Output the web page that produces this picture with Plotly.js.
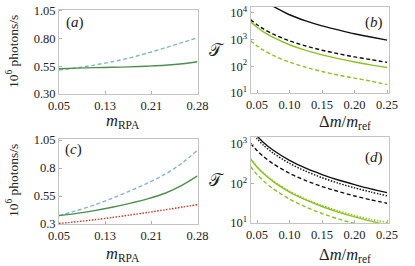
<!DOCTYPE html>
<html><head><meta charset="utf-8">
<script src="https://cdn.plot.ly/plotly-3.0.1.min.js"></script>
<style>html,body{margin:0;padding:0;background:#fff}#g{width:415px;height:266px}</style>
</head><body><div id="g"></div>
<script>
// ---- data ----
const mRPA = [0.05, 0.08, 0.11, 0.14, 0.17, 0.20, 0.23, 0.26, 0.285];
const aDashed = [0.515, 0.535, 0.560, 0.590, 0.625, 0.668, 0.715, 0.765, 0.805];
const aSolid  = [0.527, 0.533, 0.537, 0.540, 0.544, 0.550, 0.558, 0.572, 0.590];
const cDashed = [0.375, 0.42, 0.47, 0.53, 0.595, 0.665, 0.745, 0.85, 0.96];
const cSolid  = [0.375, 0.395, 0.42, 0.45, 0.485, 0.525, 0.575, 0.65, 0.73];
const cDotted = [0.305, 0.32, 0.338, 0.358, 0.38, 0.403, 0.427, 0.452, 0.473];

const dm = [0.04, 0.05, 0.06, 0.075, 0.10, 0.125, 0.15, 0.175, 0.20, 0.225, 0.25];
const dmBlackSolidB = [0.075, 0.10, 0.125, 0.15, 0.175, 0.20, 0.225, 0.25];
const bBlackSolid  = [17500, 8500, 5000, 3250, 2300, 1650, 1250, 950];
const bBlackDashed = [5600, 3600, 2500, 1600, 900, 575, 400, 295, 225, 178, 140];
const bGreenSolid  = [4700, 2900, 1950, 1200, 640, 395, 268, 193, 145, 113, 90];
const bGreenDashed = [900, 580, 400, 255, 143, 92, 64, 47, 36, 28, 20.5];

const dBlackSolid  = [2534, 1604, 1104, 697, 388, 245, 169, 123, 94, 73, 59];
const dBlackDotted = [2157, 1360, 934, 589, 325, 205, 141, 102, 78, 61, 49];
const dBlackDashed = [1050, 686, 484, 315, 182, 119, 84, 63, 48.5, 38.7, 31.7];
const dGreenSolid  = [420, 263, 179, 112, 61, 38.5, 26.2, 18.9, 14.3, 11.2, 8.9];
const dGreenDotted = [430, 270, 185, 116, 64, 40.5, 27.8, 20.2, 15.5, 12.4, 10.4];
const dGreenDashed = [270, 170, 117, 73.5, 40.5, 25.5, 17.4, 12.7, 9.7, 7.6, 6.1];

const mTickVals = [0.05, 0.1283, 0.2067, 0.285];
const mTickText = ['0.05', '0.13', '0.21', '0.28'];
const aYTickText = ['0.30', '0.55', '0.80', '1.05'];
const cYTickText = ['0.3', '0.55', '0.8', '1.05'];
const phVals = [0.30, 0.55, 0.80, 1.05];
const dmTicks = [0.05, 0.10, 0.15, 0.20, 0.25];

// ---- styles ----
const W = 415, H = 266;
const BLUE = '#86b6c2', GREEN = '#4f8d4f', RED = '#cc3322', BLACK = '#111', LIME = '#8cc21f';
const SERIF = 'Liberation Serif';
const px = (x) => x / W, py = (y) => 1 - y / H;
const DASH = '4px,2.5px', DOT = '1.5px,1.5px';

function tr(x, y, xa, ya, color, dash, w) {
  return {x: x, y: y, xaxis: xa, yaxis: ya, type: 'scatter', mode: 'lines',
          line: {color: color, dash: dash, width: w || 1.4, shape: 'spline', smoothing: 0.8},
          hoverinfo: 'skip'};
}
const data = [
  tr(mRPA, aDashed, 'x', 'y', BLUE, DASH),
  tr(mRPA, aSolid, 'x', 'y', GREEN, 'solid'),
  tr(dmBlackSolidB, bBlackSolid, 'x2', 'y2', BLACK, 'solid'),
  tr(dm, bBlackDashed, 'x2', 'y2', BLACK, DASH),
  tr(dm, bGreenSolid, 'x2', 'y2', LIME, 'solid'),
  tr(dm, bGreenDashed, 'x2', 'y2', LIME, DASH),
  tr(mRPA, cDashed, 'x3', 'y3', BLUE, DASH),
  tr(mRPA, cSolid, 'x3', 'y3', GREEN, 'solid'),
  tr(mRPA, cDotted, 'x3', 'y3', RED, DOT),
  tr(dm, dBlackSolid, 'x4', 'y4', BLACK, 'solid'),
  tr(dm, dBlackDotted, 'x4', 'y4', BLACK, DOT),
  tr(dm, dBlackDashed, 'x4', 'y4', BLACK, DASH),
  tr(dm, dGreenSolid, 'x4', 'y4', LIME, 'solid'),
  tr(dm, dGreenDotted, 'x4', 'y4', LIME, DOT),
  tr(dm, dGreenDashed, 'x4', 'y4', LIME, DASH),
];

const tickFont = {family: SERIF, size: 12.5, color: '#222'};
function ax(extra) {
  return Object.assign({showgrid: false, zeroline: false, showline: true, mirror: true,
    linecolor: '#c4c4c4', linewidth: 1, ticks: 'inside', ticklen: 3, tickcolor: '#b0b0b0',
    tickfont: tickFont, fixedrange: true}, extra);
}
const logTicks = (vals) => vals.map(v => '10<sup>' + Math.round(Math.log10(v)) + '</sup>');

const layout = {
  width: W, height: H, margin: {l: 0, r: 0, t: 0, b: 0},
  paper_bgcolor: '#fff', plot_bgcolor: '#fff', showlegend: false,
  font: {family: SERIF, color: '#222'},
  xaxis: ax({domain: [px(59), px(197.5)], anchor: 'y', range: [0.05, 0.285],
             tickvals: mTickVals, ticktext: mTickText}),
  yaxis: ax({domain: [py(94), py(9.5)], anchor: 'x', range: [0.30, 1.06],
             tickvals: phVals, ticktext: aYTickText}),
  xaxis2: ax({domain: [px(250.5), px(389)], anchor: 'y2', range: [0.04, 0.253],
              tickvals: dmTicks, ticktext: dmTicks.map(v => v.toFixed(2))}),
  yaxis2: ax({domain: [py(93), py(7)], anchor: 'x2', type: 'log', range: [1, 4.22],
              tickvals: [10, 100, 1000, 10000], ticktext: logTicks([10, 100, 1000, 10000])}),
  xaxis3: ax({domain: [px(59), px(197.5)], anchor: 'y3', range: [0.05, 0.285],
              tickvals: mTickVals, ticktext: mTickText}),
  yaxis3: ax({domain: [py(224), py(139)], anchor: 'x3', range: [0.30, 1.06],
              tickvals: phVals, ticktext: cYTickText}),
  xaxis4: ax({domain: [px(250.5), px(389)], anchor: 'y4', range: [0.04, 0.253],
              tickvals: dmTicks, ticktext: dmTicks.map(v => v.toFixed(2))}),
  yaxis4: ax({domain: [py(223), py(137)], anchor: 'x4', type: 'log', range: [1, 3.18],
              tickvals: [10, 100, 1000], ticktext: logTicks([10, 100, 1000])}),
  annotations: []
};

function ann(text, x, y, size, angle) {
  layout.annotations.push({text: text, x: px(x), y: py(y), xref: 'paper', yref: 'paper',
    showarrow: false, textangle: angle || 0, xanchor: 'center', yanchor: 'middle',
    font: {family: SERIF, size: size, color: '#222'}});
}
ann('10<sup>6</sup> photons/s', 12, 52, 13.5, -90);
ann('10<sup>6</sup> photons/s', 12, 181, 13.5, -90);
ann('<i>m</i><sub>RPA</sub>', 123, 121, 16.5);
ann('<i>m</i><sub>RPA</sub>', 123, 254, 16.5);
ann('Δ<i>m</i>/<i>m</i><sub>ref</sub>', 345, 122, 16.5);
ann('Δ<i>m</i>/<i>m</i><sub>ref</sub>', 345, 255, 16.5);
ann('𝒯', 216, 50, 17);
ann('𝒯', 216, 180, 17);
ann('(<i>a</i>)', 75, 23, 15);
ann('(<i>b</i>)', 374, 23, 15);
ann('(<i>c</i>)', 73, 149, 15);
ann('(<i>d</i>)', 374, 157, 15);

Plotly.newPlot('g', data, layout, {staticPlot: true, displayModeBar: false});
</script></body></html>
